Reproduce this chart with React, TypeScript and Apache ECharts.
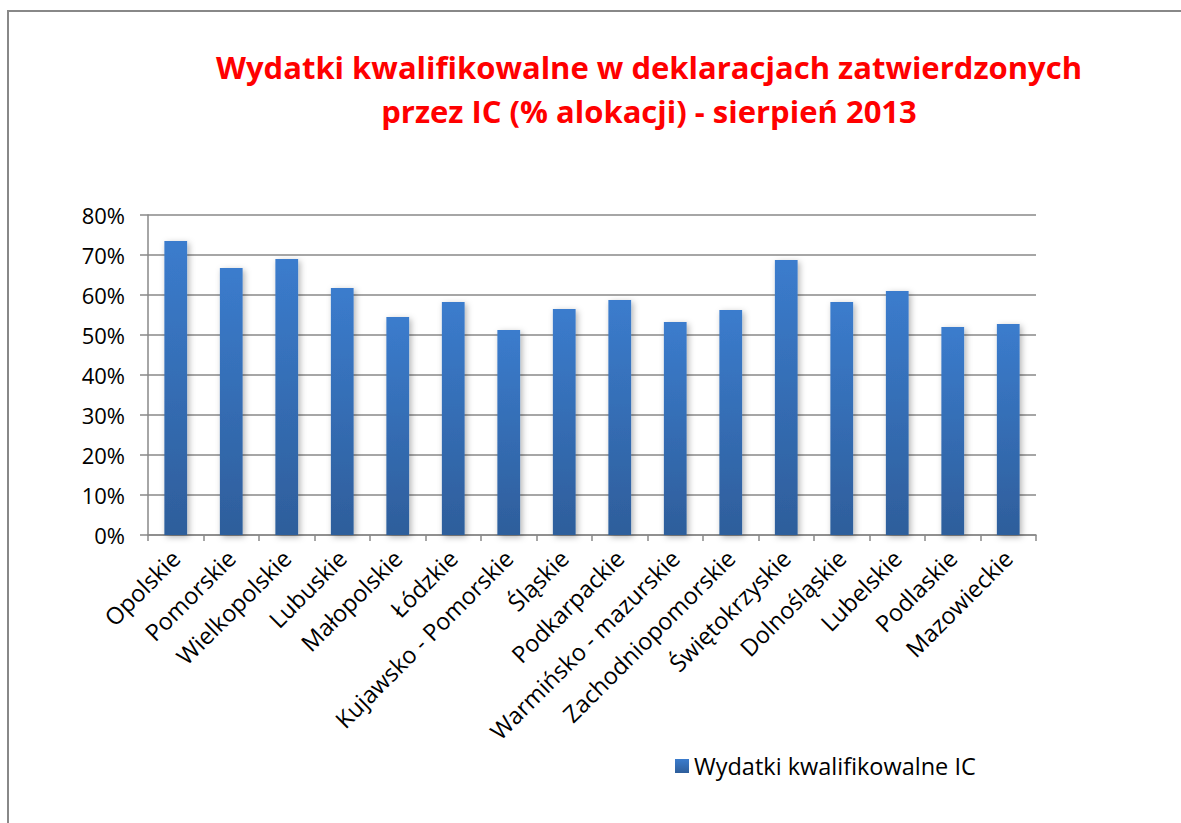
import React, { useEffect, useRef } from "react";
import * as echarts from "echarts";

const titleLines = [
  "Wydatki kwalifikowalne w deklaracjach zatwierdzonych",
  "przez IC (% alokacji) - sierpień 2013",
];
const seriesName = "Wydatki kwalifikowalne IC";
const categories = [
  "Opolskie",
  "Pomorskie",
  "Wielkopolskie",
  "Lubuskie",
  "Małopolskie",
  "Łódzkie",
  "Kujawsko - Pomorskie",
  "Śląskie",
  "Podkarpackie",
  "Warmińsko - mazurskie",
  "Zachodniopomorskie",
  "Świętokrzyskie",
  "Dolnośląskie",
  "Lubelskie",
  "Podlaskie",
  "Mazowieckie",
];
const values = [73.5, 66.75, 69, 61.75, 54.5, 58.25, 51.25, 56.5, 58.75, 53.25, 56.25, 68.75, 58.25, 61, 52, 52.75];
const yMin = 0;
const yMax = 80;
const yInterval = 10;

const FONT = "'Open Sans', Lato, sans-serif";

export default function App() {
  const ref = useRef<HTMLDivElement>(null);
  useEffect(() => {
    document.body.style.margin = "0";
    if (!ref.current) return;
    const chart = echarts.init(ref.current, null, { renderer: "svg" });
    const barColor = new echarts.graphic.LinearGradient(0, 0, 0, 1, [
      { offset: 0, color: "#3B7CCD" },
      { offset: 1, color: "#2E5E9B" },
    ]);
    const titleStyle = {
      fill: "#FF0000",
      fontFamily: FONT,
      fontWeight: "bold",
      fontSize: 31,
      textAlign: "center",
      textVerticalAlign: "middle",
    };
    chart.setOption({
      animation: false,
      backgroundColor: "#ffffff",
      graphic: [
        {
          type: "line",
          shape: { x1: 8, y1: 10, x2: 8, y2: 823 },
          style: { stroke: "#888888", lineWidth: 2 },
        },
        {
          type: "line",
          shape: { x1: 7, y1: 11, x2: 1181, y2: 11 },
          style: { stroke: "#888888", lineWidth: 2 },
        },
        {
          type: "text",
          x: 649,
          y: 67,
          style: { ...titleStyle, text: titleLines[0] },
        },
        {
          type: "text",
          x: 649,
          y: 111,
          style: { ...titleStyle, text: titleLines[1] },
        },
      ],
      legend: {
        left: 670,
        top: 749,
        itemWidth: 14,
        itemHeight: 14,
        itemGap: 8,
        icon: "rect",
        textStyle: { fontFamily: FONT, fontSize: 23.5, color: "#000000" },
        data: [seriesName],
      },
      grid: { left: 148, right: 145, top: 215, bottom: 288, containLabel: false },
      xAxis: {
        type: "category",
        data: categories,
        axisLine: { show: true, lineStyle: { color: "#888888", width: 1.5 } },
        axisTick: { show: true, length: 6, lineStyle: { color: "#888888", width: 1.5 } },
        axisLabel: {
          rotate: 45,
          interval: 0,
          margin: 19,
          fontFamily: FONT,
          fontSize: 23.5,
          color: "#000000",
        },
      },
      yAxis: {
        type: "value",
        min: yMin,
        max: yMax,
        interval: yInterval,
        axisLine: { show: true, lineStyle: { color: "#888888", width: 1.5 } },
        axisTick: { show: true, length: 8, lineStyle: { color: "#888888", width: 1.5 } },
        splitLine: { show: true, lineStyle: { color: "#888888", width: 1.5 } },
        axisLabel: {
          formatter: "{value}%",
          margin: 23,
          fontFamily: FONT,
          fontSize: 22,
          color: "#000000",
        },
      },
      series: [
        {
          name: seriesName,
          type: "bar",
          data: values,
          barWidth: "41%",
          itemStyle: {
            color: barColor,
            shadowColor: "rgba(0,0,0,0.3)",
            shadowBlur: 6,
            shadowOffsetX: 2,
            shadowOffsetY: 2,
          },
        },
      ],
    });
    return () => chart.dispose();
  }, []);
  return (
    <div
      ref={ref}
      style={{ position: "absolute", left: 0, top: 0, width: 1181, height: 823 }}
    />
  );
}
